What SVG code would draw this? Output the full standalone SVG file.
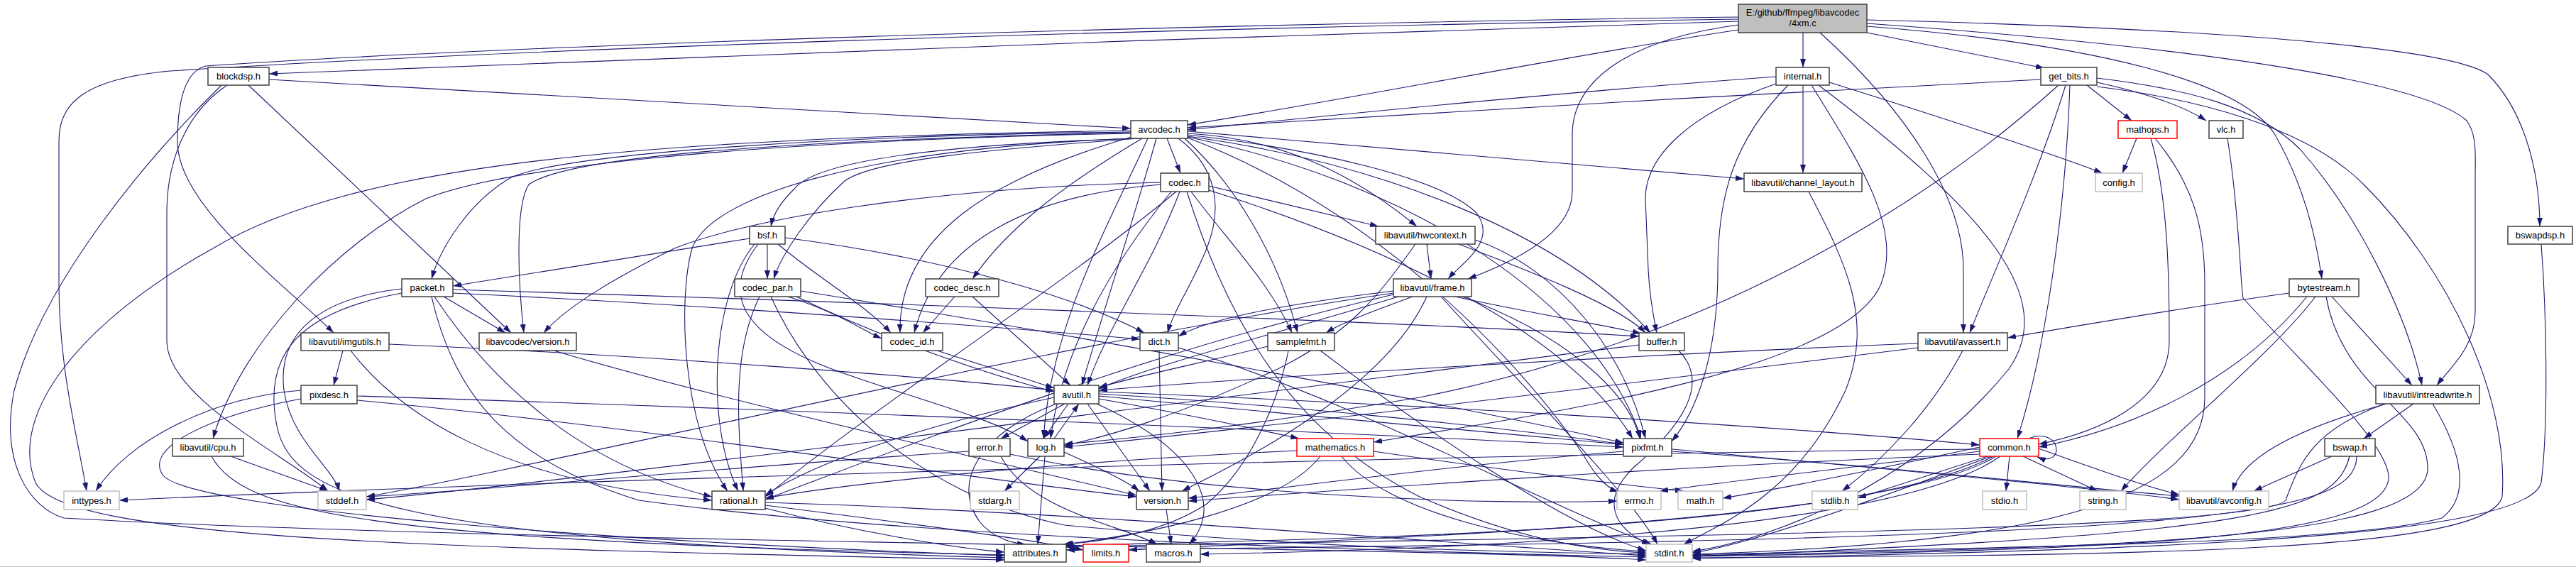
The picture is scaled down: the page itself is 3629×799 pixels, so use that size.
<svg xmlns="http://www.w3.org/2000/svg" width="3629" height="799" viewBox="0 0 3629 799">
<defs>
<marker id="a" viewBox="0 0 12 8" refX="12" refY="4" markerWidth="12" markerHeight="8" markerUnits="userSpaceOnUse" orient="auto"><path d="M0,0L12,4L0,8z" fill="#191970"/></marker>
<style>
.e path{fill:none;stroke:#191970;stroke-width:1.1;marker-end:url(#a)}
.node rect{fill:#fff;stroke:#404040;stroke-width:1.5}
.node.g rect{stroke:#bfbfbf}
.node.r rect{stroke:#ff0000}
.node.root rect{fill:#bfbfbf}
.node text{font-family:"Liberation Sans",Arial,sans-serif;font-size:13px;fill:#000;text-anchor:middle}
</style>
</defs>
<rect width="3629" height="799" fill="#fff"/>
<line x1="0" y1="798.5" x2="3629" y2="798.5" stroke="#c0c0c0"/>
<g id="edges" class="e">
<path d="M2449,30 C1800,50 900,80 379,104"/>
<path d="M2449,42 C2200,80 1900,140 1673,176"/>
<path d="M2449,24 C1600,35 700,65 290,93 C262,100 250,140 250,200 C250,290 400,400 470,469"/>
<path d="M2449,27 C1600,40 700,70 240,100 C110,112 83,150 83,200 L83,400 C83,520 110,620 122,692"/>
<path d="M2540,46 L2540,95"/>
<path d="M2630,46 L2880,96"/>
<path d="M2630,28 C3100,40 3450,65 3505,105 C3560,160 3578,250 3578,319"/>
<path d="M2630,33 C3150,70 3420,120 3475,170 C3490,190 3487,220 3487,250 L3487,440 C3487,490 3450,520 3433,543"/>
<path d="M2630,37 C2950,62 3160,115 3205,190 C3245,260 3262,330 3271,393"/>
<path d="M2564,46 C2690,160 2766,280 2766,380 L2766,469"/>
<path d="M2449,35 C2300,55 2215,110 2215,190 L2215,270 C2215,330 2130,370 2068,393"/>
<path d="M379,112 C900,140 1300,165 1593,181"/>
<path d="M350,120 L720,469"/>
<path d="M320,120 C260,160 235,230 235,300 L235,480 C235,560 400,640 462,692"/>
<path d="M312,120 C200,230 60,400 20,550 C0,650 40,715 90,730 C700,765 2000,770 2319,789"/>
<path d="M1593,186 C1200,190 800,215 720,250 C660,285 620,350 608,393"/>
<path d="M1600,195 C1300,205 1150,230 1120,265 C1100,285 1090,300 1086,319"/>
<path d="M1605,195 C1400,210 1230,225 1190,255 C1140,300 1100,360 1090,393"/>
<path d="M1609,195 C1500,260 1420,320 1370,393"/>
<path d="M1594,193 C1400,250 1265,330 1268,469"/>
<path d="M1644,195 L1663,244"/>
<path d="M1629,195 C1600,300 1560,420 1524,543"/>
<path d="M1617,195 C1560,320 1480,460 1470,618"/>
<path d="M1660,195 C1720,240 1720,300 1700,350 C1680,400 1652,440 1645,469"/>
<path d="M1669,195 C1740,260 1800,360 1828,469"/>
<path d="M1673,188 C1800,195 1900,240 1996,319"/>
<path d="M1673,190 C1850,210 2030,250 2080,300 C2110,340 2060,370 2040,393"/>
<path d="M1673,192 C1950,230 2200,330 2325,469"/>
<path d="M1673,193 C2000,260 2250,430 2312,618"/>
<path d="M1673,194 C1950,300 2150,520 2230,640 C2250,675 2265,688 2280,693"/>
<path d="M1673,185 L2457,252"/>
<path d="M1593,188 C1000,200 700,240 600,280 C480,340 340,480 300,618"/>
<path d="M1593,184 C900,195 500,230 300,350 C120,450 10,580 50,680 C90,760 600,772 1415,789"/>
<path d="M1597,195 C1200,210 1000,280 975,350 C955,420 960,600 1025,692"/>
<path d="M1593,187 C1100,198 800,220 745,260 C725,290 730,400 738,469"/>
<path d="M1635,257 C1300,265 1050,310 950,350 C870,390 800,430 766,469"/>
<path d="M1635,260 C1450,275 1320,340 1288,469"/>
<path d="M1657,270 C1500,400 1250,560 1078,700"/>
<path d="M1662,270 C1620,380 1560,460 1532,543"/>
<path d="M1678,270 C1730,340 1790,400 1820,469"/>
<path d="M1703,262 L1942,319"/>
<path d="M1703,268 C1900,330 2200,450 2300,618"/>
<path d="M1672,270 C1720,420 1800,600 2000,700 C2150,765 2250,776 2319,779"/>
<path d="M1650,270 C1560,380 1495,500 1480,618"/>
<path d="M1056,336 L638,403"/>
<path d="M1081,344 L1081,393"/>
<path d="M1106,335 C1300,360 1500,410 1612,469"/>
<path d="M1063,344 C1000,420 995,600 1040,692"/>
<path d="M1068,344 C1010,420 1050,480 1200,530 C1300,565 1400,590 1448,622"/>
<path d="M1096,344 C1150,390 1220,430 1255,469"/>
<path d="M1070,418 C1030,500 1040,600 1047,692"/>
<path d="M1110,418 C1180,440 1215,465 1242,477"/>
<path d="M1122,418 C1250,480 1400,530 1485,552"/>
<path d="M1128,410 C1500,470 2000,560 2287,624"/>
<path d="M1086,418 C1150,560 1300,700 1500,740 C1900,778 2200,778 2319,781"/>
<path d="M1345,418 L1300,469"/>
<path d="M1370,418 L1508,543"/>
<path d="M2010,344 L2016,393"/>
<path d="M2055,344 C2150,380 2280,430 2318,469"/>
<path d="M2078,338 C2200,380 2290,500 2318,618"/>
<path d="M1994,344 C1940,420 1900,470 1800,520 C1650,590 1560,615 1499,628"/>
<path d="M1990,418 C1930,440 1890,455 1868,469"/>
<path d="M2050,418 C2150,440 2260,458 2312,470"/>
<path d="M1963,410 C1800,430 1700,450 1660,474"/>
<path d="M1970,418 C1800,470 1620,515 1548,548"/>
<path d="M2060,418 C2200,470 2295,550 2310,618"/>
<path d="M2030,418 C2150,550 2300,700 2335,767"/>
<path d="M1963,415 C1600,500 1300,620 1078,704"/>
<path d="M2010,418 C1950,550 1750,650 1665,692"/>
<path d="M1963,413 C1500,480 800,650 516,700"/>
<path d="M1633,494 L1637,692"/>
<path d="M1660,490 C1900,560 2150,700 2327,767"/>
<path d="M1786,488 C1700,510 1600,530 1548,546"/>
<path d="M1815,494 C1800,570 1760,660 1700,710 C1640,750 1560,762 1500,767"/>
<path d="M1860,494 C2000,600 2200,740 2319,776"/>
<path d="M2365,494 C2410,540 2370,600 2300,660 C2250,710 2280,750 2325,767"/>
<path d="M2309,486 C1800,550 800,680 516,704"/>
<path d="M1500,569 L1410,618"/>
<path d="M1505,569 L1470,618"/>
<path d="M1485,618 L1520,569"/>
<path d="M1532,569 L1620,692"/>
<path d="M1548,562 C1650,580 1750,600 1830,618"/>
<path d="M1548,555 C1800,570 2100,600 2287,626"/>
<path d="M1548,552 C2000,570 2500,600 2789,627"/>
<path d="M1485,560 C1300,600 1150,650 1078,698"/>
<path d="M1488,569 C1380,610 1340,680 1380,735 C1400,760 1430,766 1445,767"/>
<path d="M1545,569 C1700,640 1720,720 1675,767"/>
<path d="M1548,558 C2200,620 2900,680 3070,704"/>
<path d="M1465,643 L1415,692"/>
<path d="M1472,643 L1462,767"/>
<path d="M1499,637 C1550,660 1590,680 1605,692"/>
<path d="M1365,636 C1000,660 700,690 516,700"/>
<path d="M1423,640 C1700,700 2100,712 2278,706"/>
<path d="M1410,643 C1450,720 1580,740 1630,767"/>
<path d="M1643,718 L1650,767"/>
<path d="M1078,708 C1500,720 2100,770 2319,783"/>
<path d="M1078,712 C1300,740 1450,760 1526,775"/>
<path d="M1078,716 C1200,748 1340,772 1415,778"/>
<path d="M1827,635 C1500,650 1200,680 1078,702"/>
<path d="M1935,636 C2100,660 2300,685 2372,692"/>
<path d="M1890,643 C1950,720 2150,768 2319,777"/>
<path d="M1860,643 C1800,720 1600,755 1498,767"/>
<path d="M2287,636 C2000,660 1800,690 1674,702"/>
<path d="M2355,636 C2700,660 2950,690 3070,699"/>
<path d="M2858,618 C2905,600 2910,660 2870,644"/>
<path d="M2789,630 C2650,660 2500,690 2427,702"/>
<path d="M2789,636 C2600,660 2420,680 2338,692"/>
<path d="M2800,643 L2617,702"/>
<path d="M2831,643 L2826,692"/>
<path d="M2850,643 L2955,692"/>
<path d="M2789,633 C2000,640 700,680 168,705"/>
<path d="M2805,643 C2600,720 2450,770 2384,779"/>
<path d="M2812,643 C2650,745 1800,762 1590,775"/>
<path d="M2808,643 C2600,755 1800,760 1500,769"/>
<path d="M2818,643 C2650,762 1900,777 1691,781"/>
<path d="M2789,640 C2300,660 1900,690 1674,706"/>
<path d="M2872,632 C2950,660 3020,685 3070,697"/>
<path d="M3010,195 L2990,244"/>
<path d="M3030,195 C3055,280 3056,400 3056,480 C3056,570 2950,610 2872,626"/>
<path d="M3036,195 C3090,260 3106,320 3106,400 L3106,560 C3106,700 2900,765 2384,781"/>
<path d="M3138,195 C3155,300 3156,400 3160,420 C3250,520 3360,620 3365,670 C3370,760 3000,775 2384,784"/>
<path d="M2875,112 C2500,130 2000,160 1673,180"/>
<path d="M2900,120 C2700,300 2400,480 2000,560 C1700,610 1560,620 1499,626"/>
<path d="M2910,120 C2870,250 2810,380 2775,469"/>
<path d="M2916,120 C2910,300 2880,500 2842,618"/>
<path d="M2940,120 L3003,170"/>
<path d="M2954,116 C3040,135 3085,155 3108,170"/>
<path d="M2954,110 C3080,125 3180,150 3240,210 C3320,300 3390,440 3412,543"/>
<path d="M2954,122 C3100,140 3250,180 3330,260 C3450,380 3535,560 3525,700 C3505,780 3000,782 2384,786"/>
<path d="M2502,108 C2200,130 1900,160 1673,183"/>
<path d="M2540,120 L2540,244"/>
<path d="M2577,116 C2750,170 2900,220 2962,244"/>
<path d="M2502,118 C2380,160 2318,220 2318,280 L2322,380 C2324,420 2330,450 2334,469"/>
<path d="M2519,120 C2440,200 2420,280 2420,380 C2420,500 2390,580 2355,622"/>
<path d="M2552,120 C2620,230 2680,320 2650,400 C2600,520 2200,580 1935,623"/>
<path d="M2562,120 C2800,300 2900,420 2830,520 C2700,680 2500,760 2384,777"/>
<path d="M3580,344 C3588,450 3590,600 3580,680 C3560,760 3000,776 2384,787"/>
<path d="M3225,413 C3100,430 2950,455 2828,476"/>
<path d="M3262,418 C3200,500 3050,620 2988,692"/>
<path d="M3250,418 C3150,540 3000,605 2872,630"/>
<path d="M3285,418 L3398,543"/>
<path d="M3277,418 C3300,550 3420,580 3420,660 C3420,760 3000,772 2384,783"/>
<path d="M2765,494 C2720,580 2650,650 2595,692"/>
<path d="M2702,484 C2300,500 1800,530 1548,550"/>
<path d="M2702,490 C2300,540 1800,600 1499,630"/>
<path d="M3400,569 L3330,618"/>
<path d="M3362,569 C3250,600 3160,640 3145,692"/>
<path d="M3427,569 C3470,640 3480,700 3440,730 C3300,770 2700,772 2384,782"/>
<path d="M3360,569 C3260,605 3240,650 3220,705 C3180,750 2200,756 1502,771"/>
<path d="M3285,643 L3175,692"/>
<path d="M3310,643 C3290,720 3200,752 2384,784"/>
<path d="M3320,643 C3320,730 3100,760 1502,775"/>
<path d="M424,550 C300,560 180,620 135,692"/>
<path d="M424,562 C300,585 200,630 230,670 C270,720 900,765 1415,783"/>
<path d="M503,558 C1200,580 1900,610 2287,630"/>
<path d="M503,564 C900,600 1400,680 1601,700"/>
<path d="M483,494 L470,543"/>
<path d="M548,485 C900,500 1300,530 1485,550"/>
<path d="M494,494 C560,580 700,680 1003,705"/>
<path d="M325,643 L462,692"/>
<path d="M298,643 C340,720 500,762 1415,782"/>
<path d="M625,418 L712,469"/>
<path d="M566,407 C450,420 390,470 400,550 C410,620 470,660 478,692"/>
<path d="M566,413 C420,440 370,500 390,600 C410,700 550,762 1415,786"/>
<path d="M608,418 C640,560 720,650 900,705 C1300,760 2000,778 2319,785"/>
<path d="M612,418 C680,520 800,650 1003,700"/>
<path d="M638,408 C1200,425 2000,455 2309,474"/>
<path d="M638,413 C1000,430 1400,460 1606,478"/>
<path d="M780,494 C1000,560 1400,650 1601,698"/>
<path d="M2548,270 C2600,370 2640,450 2600,550 C2530,700 2420,740 2372,767"/>
<path d="M1320,494 C1400,520 1450,535 1485,547"/>
</g>
<g id="n_root" class="node root"><rect x="2449" y="6" width="181" height="40"/><text x="2539.5" y="22">E:/github/ffmpeg/libavcodec</text><text x="2539.5" y="37">/4xm.c</text></g>
<g id="n_blockdsp" class="node"><rect x="293" y="95" width="86" height="25"/><text x="336" y="112">blockdsp.h</text></g>
<g id="n_internal" class="node"><rect x="2502" y="95" width="75" height="25"/><text x="2539.5" y="112">internal.h</text></g>
<g id="n_get_bits" class="node"><rect x="2875" y="95" width="79" height="25"/><text x="2914.5" y="112">get_bits.h</text></g>
<g id="n_avcodec" class="node"><rect x="1593" y="170" width="80" height="25"/><text x="1633" y="187">avcodec.h</text></g>
<g id="n_mathops" class="node r"><rect x="2984" y="170" width="83" height="25"/><text x="3025.5" y="187">mathops.h</text></g>
<g id="n_vlc" class="node"><rect x="3112" y="170" width="48" height="25"/><text x="3136" y="187">vlc.h</text></g>
<g id="n_codec" class="node"><rect x="1635" y="244" width="68" height="26"/><text x="1669" y="261.5">codec.h</text></g>
<g id="n_channel_layout" class="node"><rect x="2457" y="244" width="166" height="26"/><text x="2540" y="261.5">libavutil/channel_layout.h</text></g>
<g id="n_config" class="node g"><rect x="2952" y="244" width="66" height="26"/><text x="2985" y="261.5">config.h</text></g>
<g id="n_bsf" class="node"><rect x="1056" y="319" width="50" height="25"/><text x="1081" y="336">bsf.h</text></g>
<g id="n_hwcontext" class="node"><rect x="1938" y="319" width="140" height="25"/><text x="2008" y="336">libavutil/hwcontext.h</text></g>
<g id="n_bswapdsp" class="node"><rect x="3533" y="319" width="91" height="25"/><text x="3578.5" y="336">bswapdsp.h</text></g>
<g id="n_packet" class="node"><rect x="566" y="393" width="72" height="25"/><text x="602" y="410">packet.h</text></g>
<g id="n_codec_par" class="node"><rect x="1035" y="393" width="93" height="25"/><text x="1081.5" y="410">codec_par.h</text></g>
<g id="n_codec_desc" class="node"><rect x="1304" y="393" width="103" height="25"/><text x="1355.5" y="410">codec_desc.h</text></g>
<g id="n_frame" class="node"><rect x="1963" y="393" width="110" height="25"/><text x="2018" y="410">libavutil/frame.h</text></g>
<g id="n_bytestream" class="node"><rect x="3225" y="393" width="98" height="25"/><text x="3274" y="410">bytestream.h</text></g>
<g id="n_imgutils" class="node"><rect x="424" y="469" width="124" height="25"/><text x="486" y="486">libavutil/imgutils.h</text></g>
<g id="n_lavc_version" class="node"><rect x="675" y="469" width="137" height="25"/><text x="743.5" y="486">libavcodec/version.h</text></g>
<g id="n_codec_id" class="node"><rect x="1242" y="469" width="86" height="25"/><text x="1285" y="486">codec_id.h</text></g>
<g id="n_dict" class="node"><rect x="1606" y="469" width="54" height="25"/><text x="1633" y="486">dict.h</text></g>
<g id="n_samplefmt" class="node"><rect x="1786" y="469" width="94" height="25"/><text x="1833" y="486">samplefmt.h</text></g>
<g id="n_buffer" class="node"><rect x="2309" y="469" width="64" height="25"/><text x="2341" y="486">buffer.h</text></g>
<g id="n_avassert" class="node"><rect x="2702" y="469" width="126" height="25"/><text x="2765" y="486">libavutil/avassert.h</text></g>
<g id="n_pixdesc" class="node"><rect x="424" y="543" width="79" height="26"/><text x="463.5" y="560.5">pixdesc.h</text></g>
<g id="n_avutil" class="node"><rect x="1485" y="543" width="63" height="26"/><text x="1516.5" y="560.5">avutil.h</text></g>
<g id="n_intreadwrite" class="node"><rect x="3347" y="543" width="146" height="26"/><text x="3420" y="560.5">libavutil/intreadwrite.h</text></g>
<g id="n_cpu" class="node"><rect x="243" y="618" width="100" height="25"/><text x="293" y="635">libavutil/cpu.h</text></g>
<g id="n_error" class="node"><rect x="1365" y="618" width="58" height="25"/><text x="1394" y="635">error.h</text></g>
<g id="n_log" class="node"><rect x="1448" y="618" width="51" height="25"/><text x="1473.5" y="635">log.h</text></g>
<g id="n_mathematics" class="node r"><rect x="1827" y="618" width="108" height="25"/><text x="1881" y="635">mathematics.h</text></g>
<g id="n_pixfmt" class="node"><rect x="2287" y="618" width="68" height="25"/><text x="2321" y="635">pixfmt.h</text></g>
<g id="n_common" class="node r"><rect x="2789" y="618" width="83" height="25"/><text x="2830.5" y="635">common.h</text></g>
<g id="n_bswap" class="node"><rect x="3275" y="618" width="71" height="25"/><text x="3310.5" y="635">bswap.h</text></g>
<g id="n_inttypes" class="node g"><rect x="90" y="692" width="78" height="26"/><text x="129" y="709.5">inttypes.h</text></g>
<g id="n_stddef" class="node g"><rect x="448" y="692" width="68" height="26"/><text x="482" y="709.5">stddef.h</text></g>
<g id="n_rational" class="node"><rect x="1003" y="692" width="75" height="26"/><text x="1040.5" y="709.5">rational.h</text></g>
<g id="n_stdarg" class="node g"><rect x="1367" y="692" width="69" height="26"/><text x="1401.5" y="709.5">stdarg.h</text></g>
<g id="n_version" class="node"><rect x="1601" y="692" width="73" height="26"/><text x="1637.5" y="709.5">version.h</text></g>
<g id="n_errno" class="node g"><rect x="2278" y="692" width="62" height="26"/><text x="2309" y="709.5">errno.h</text></g>
<g id="n_math" class="node g"><rect x="2364" y="692" width="63" height="26"/><text x="2395.5" y="709.5">math.h</text></g>
<g id="n_stdlib" class="node g"><rect x="2553" y="692" width="64" height="26"/><text x="2585" y="709.5">stdlib.h</text></g>
<g id="n_stdio" class="node g"><rect x="2793" y="692" width="62" height="26"/><text x="2824" y="709.5">stdio.h</text></g>
<g id="n_string" class="node g"><rect x="2930" y="692" width="65" height="26"/><text x="2962.5" y="709.5">string.h</text></g>
<g id="n_avconfig" class="node g"><rect x="3070" y="692" width="126" height="26"/><text x="3133" y="709.5">libavutil/avconfig.h</text></g>
<g id="n_attributes" class="node"><rect x="1415" y="767" width="87" height="25"/><text x="1458.5" y="784">attributes.h</text></g>
<g id="n_limits" class="node r"><rect x="1526" y="767" width="64" height="25"/><text x="1558" y="784">limits.h</text></g>
<g id="n_macros" class="node"><rect x="1615" y="767" width="76" height="25"/><text x="1653" y="784">macros.h</text></g>
<g id="n_stdint" class="node g"><rect x="2319" y="767" width="65" height="25"/><text x="2351.5" y="784">stdint.h</text></g>
</svg>
